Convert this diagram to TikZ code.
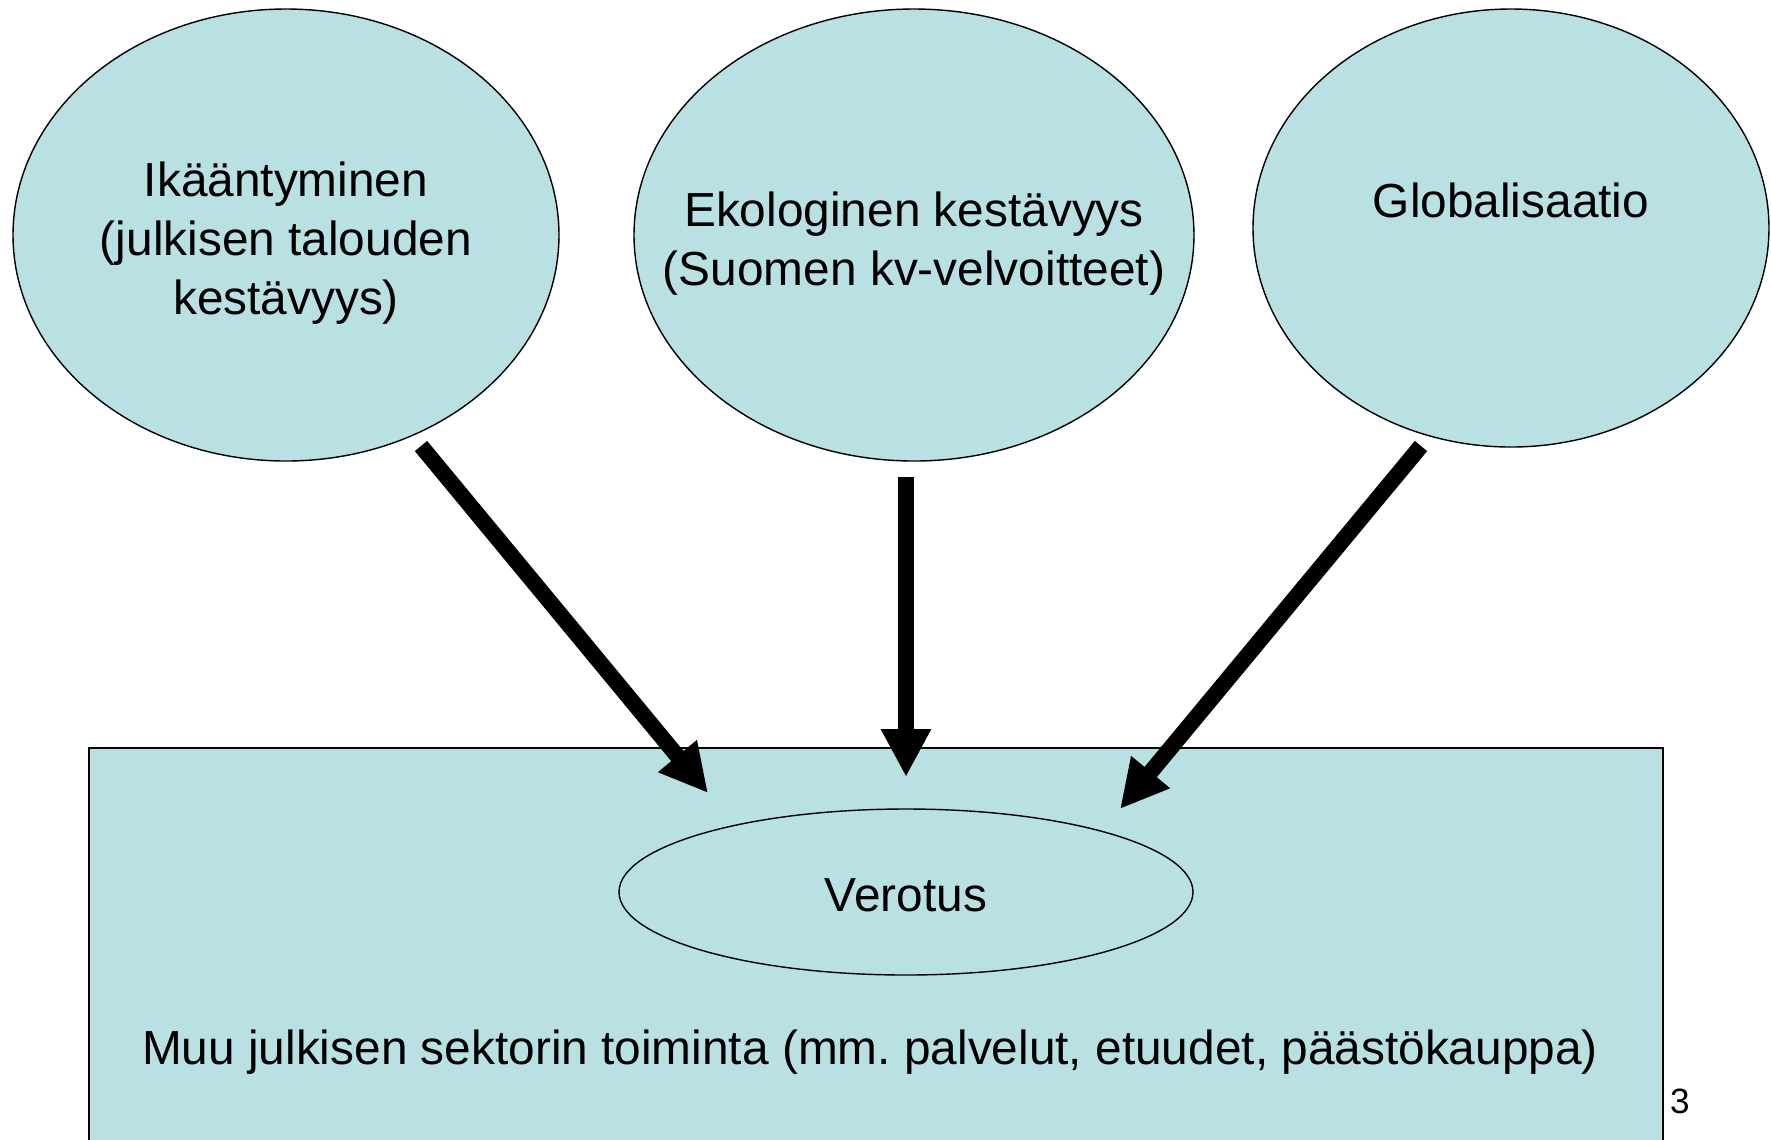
\documentclass[tikz,border=0pt]{standalone}
\usepackage{fontspec}
\setmainfont{Liberation Sans}
\usepackage{xcolor}
\usepackage{tikz}
\usetikzlibrary{shapes,arrows.meta}
\definecolor{vaalea}{RGB}{185,224,227}
\frenchspacing

\begin{document}
\begin{tikzpicture}[
	pallo/.style={ellipse,draw,line width=0.4pt,fill=vaalea,inner sep=0pt},
	teksti/.style={align=center,font=\fontsize{13.6}{16.8}\selectfont},
	nuoli/.style={line width=0.16cm,-{Triangle[length=0.48cm,width=0.47cm]}}]
	\useasboundingbox (0,0) rectangle (17.71,-11.39);
	\clip (0,0) rectangle (17.71,-11.39);
	%
	%  SECTOR BOX
	%
	\node (sektori) at (8.76,-9.49) [draw,line width=0.6pt,fill=vaalea,minimum width=15.74cm,minimum height=4.02cm] {};
	\node (muu) at (8.70,-10.52) [teksti] {Muu julkisen sektorin toiminta (mm. palvelut, etuudet, päästökauppa)};
	\node (vero) at (9.06,-8.92) [pallo,minimum width=5.74cm,minimum height=1.66cm] {};
	\node (veroteksti) at (9.06,-8.95) [teksti] {Verotus};
	%
	%  ELLIPSES
	%
	\node (ika) at (2.86,-2.35) [pallo,minimum width=5.46cm,minimum height=4.52cm] {};
	\node (ikateksti) at (2.86,-2.43) [teksti] {Ikääntyminen\\(julkisen talouden\\kestävyys)};
	\node (eko) at (9.14,-2.35) [pallo,minimum width=5.60cm,minimum height=4.52cm] {};
	\node (ekoteksti) at (9.14,-2.44) [teksti] {Ekologinen kestävyys\\(Suomen kv-velvoitteet)};
	\node (glob) at (15.11,-2.28) [pallo,minimum width=5.16cm,minimum height=4.38cm] {};
	\node (globteksti) at (15.11,-2.00) [teksti] {Globalisaatio};
	%
	%  ARROWS
	%
	\coordinate (ika1) at (4.21,-4.46);
	\coordinate (ika2) at (7.08,-7.93);
	\coordinate (eko1) at (9.06,-4.77);
	\coordinate (eko2) at (9.06,-7.77);
	\coordinate (glob1) at (14.21,-4.46);
	\coordinate (glob2) at (11.20,-8.09);
	\path[nuoli]
	(ika1) edge (ika2)
	(eko1) edge (eko2)
	(glob1) edge (glob2);
	%
	\node (sivu) at (16.80,-11.01) {\fontsize{10}{12}\selectfont 3};
\end{tikzpicture}
\end{document}
